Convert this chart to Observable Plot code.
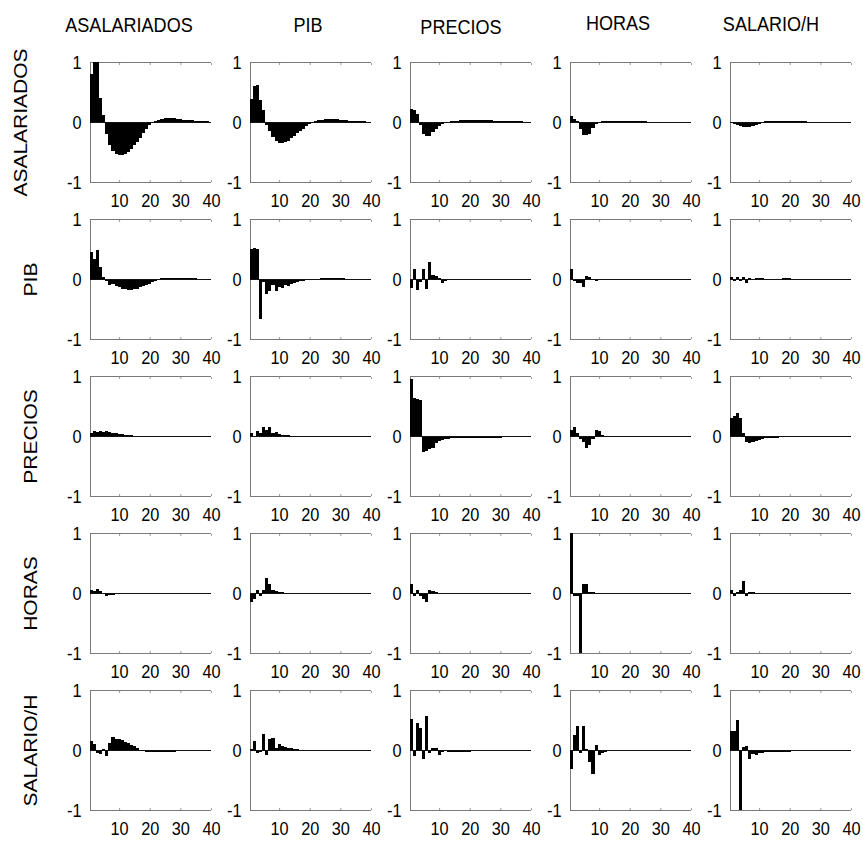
<!DOCTYPE html>
<html>
<head>
<meta charset="utf-8">
<script src="https://cdn.jsdelivr.net/npm/d3@7"></script>
<script src="https://cdn.jsdelivr.net/npm/@observablehq/plot@0.6"></script>
<style>
  html, body { margin: 0; padding: 0; background: #fff; }
  #chart { width: 863px; height: 841px; }
</style>
</head>
<body>
<div id="chart"></div>
<script>
// Variables: rows = shocked variable, columns = responding variable
const variables = ["ASALARIADOS", "PIB", "PRECIOS", "HORAS", "SALARIO/H"];
const horizons = d3.range(1, 41);
const xTicks = [10, 20, 30, 40];
const yTicks = [-1, 0, 1];

// Row 1: ASALARIADOS
const asal_asal = [0.8, 1.3, 1.2, 0.4, 0.12, -0.2, -0.38, -0.48, -0.53, -0.55, -0.55, -0.53, -0.5, -0.45, -0.39, -0.33, -0.26, -0.19, -0.12, -0.05, 0.0, 0.02, 0.04, 0.05, 0.06, 0.06, 0.06, 0.06, 0.05, 0.05, 0.04, 0.04, 0.03, 0.03, 0.02, 0.02, 0.01, 0.01, 0.01, 0.0];
const asal_pib = [0.38, 0.6, 0.62, 0.36, 0.2, -0.05, -0.15, -0.25, -0.31, -0.35, -0.35, -0.34, -0.31, -0.27, -0.23, -0.19, -0.15, -0.11, -0.07, -0.04, -0.01, 0.01, 0.03, 0.04, 0.045, 0.05, 0.05, 0.05, 0.045, 0.04, 0.035, 0.03, 0.025, 0.02, 0.02, 0.015, 0.01, 0.01, 0.005, 0.0];
const asal_prec = [0.22, 0.2, 0.13, -0.05, -0.2, -0.24, -0.24, -0.16, -0.11, -0.07, -0.04, -0.02, 0.0, 0.01, 0.02, 0.02, 0.03, 0.03, 0.03, 0.03, 0.03, 0.03, 0.03, 0.03, 0.03, 0.03, 0.03, 0.025, 0.02, 0.02, 0.02, 0.02, 0.015, 0.01, 0.01, 0.01, 0.01, 0.005, 0.0, 0.0];
const asal_hor = [0.1, 0.05, 0.02, -0.12, -0.22, -0.22, -0.2, -0.1, -0.04, -0.01, 0.01, 0.02, 0.02, 0.02, 0.02, 0.02, 0.02, 0.02, 0.02, 0.015, 0.01, 0.01, 0.01, 0.01, 0.01, 0.005, 0.005, 0.005, 0.005, 0, 0, 0, 0, 0, 0, 0, 0, 0, 0, 0];
const asal_sal = [-0.02, -0.04, -0.05, -0.07, -0.08, -0.08, -0.08, -0.07, -0.05, -0.03, -0.01, 0.01, 0.02, 0.02, 0.02, 0.02, 0.02, 0.02, 0.02, 0.02, 0.015, 0.01, 0.01, 0.01, 0.01, 0.005, 0.005, 0.005, 0, 0, 0, 0, 0, 0, 0, 0, 0, 0, 0, 0];

// Row 2: PIB
const pib_asal = [0.45, 0.34, 0.48, 0.2, 0.03, -0.03, -0.1, -0.08, -0.12, -0.14, -0.16, -0.17, -0.18, -0.18, -0.17, -0.16, -0.14, -0.12, -0.1, -0.08, -0.05, -0.03, -0.01, 0.01, 0.01, 0.01, 0.01, 0.01, 0.01, 0.01, 0.01, 0.01, 0.01, 0.01, 0.01, 0.0, 0, 0, 0, 0];
const pib_pib = [0.5, 0.52, 0.5, -0.67, -0.05, -0.25, -0.2, -0.1, -0.2, -0.13, -0.15, -0.1, -0.12, -0.08, -0.07, -0.05, -0.04, -0.03, -0.02, -0.01, 0, 0, 0, 0.01, 0.01, 0.01, 0.01, 0.01, 0.01, 0.01, 0.01, 0, 0, 0, 0, 0, 0, 0, 0, 0];
const pib_prec = [-0.15, 0.17, -0.19, -0.05, 0.17, -0.16, 0.29, 0.06, 0.05, 0.02, -0.06, -0.03, -0.02, -0.02, -0.01, 0, 0, 0, 0, 0, 0, 0, 0, 0, 0, 0, 0, 0, 0, 0, 0, 0, 0, 0, 0, 0, 0, 0, 0, 0];
const pib_hor = [0.17, -0.04, -0.06, -0.06, -0.14, 0.05, 0.04, -0.02, -0.04, -0.01, 0, 0, 0, 0, 0, 0, 0, 0, 0, 0, 0, 0, 0, 0, 0, 0, 0, 0, 0, 0, 0, 0, 0, 0, 0, 0, 0, 0, 0, 0];
const pib_sal = [0.03, -0.03, 0.04, -0.04, 0.03, -0.06, 0.02, -0.01, 0.02, 0.02, 0.01, 0, 0, 0, 0, 0, 0, 0.01, 0.01, 0.01, 0, 0, 0, 0, 0, 0, 0, 0, 0, 0, 0, 0, 0, 0, 0, 0, 0, 0, 0, 0];

// Row 3: PRECIOS
const prec_asal = [0.05, 0.08, 0.07, 0.09, 0.06, 0.08, 0.07, 0.05, 0.05, 0.04, 0.03, 0.02, 0.01, 0.01, 0, 0, 0, 0, 0, -0.01, -0.01, -0.01, -0.01, -0.01, -0.01, -0.01, -0.01, -0.01, -0.01, -0.01, 0, 0, 0, 0, 0, 0, 0, 0, 0, 0];
const prec_pib = [0.05, -0.02, 0.08, 0.05, 0.15, 0.1, 0.15, 0.05, 0.06, 0.03, 0.02, 0.01, 0.01, 0, 0, 0, 0, 0, 0, 0, 0, 0, 0, 0, 0, 0, 0, 0, 0, 0, 0, 0, 0, 0, 0, 0, 0, 0, 0, 0];
const prec_prec = [0.95, 0.63, 0.62, 0.6, -0.27, -0.25, -0.22, -0.2, -0.12, -0.08, -0.06, -0.05, -0.05, -0.04, -0.04, -0.03, -0.03, -0.03, -0.03, -0.03, -0.03, -0.03, -0.03, -0.03, -0.03, -0.03, -0.03, -0.03, -0.03, -0.03, -0.02, -0.02, -0.02, -0.02, -0.02, -0.02, -0.02, -0.02, -0.02, -0.02];
const prec_hor = [0.1, 0.15, 0.05, -0.05, -0.1, -0.2, -0.15, -0.05, 0.1, 0.08, 0.02, 0, 0, 0, 0, 0, 0, 0, 0, 0, 0, 0, 0, 0, 0, 0, 0, 0, 0, 0, 0, 0, 0, 0, 0, 0, 0, 0, 0, 0];
const prec_sal = [0.3, 0.33, 0.38, 0.3, 0.05, -0.1, -0.12, -0.1, -0.08, -0.06, -0.05, -0.04, -0.04, -0.03, -0.03, -0.03, -0.02, -0.02, -0.02, -0.02, -0.02, -0.02, -0.02, -0.02, -0.02, -0.02, -0.02, -0.02, -0.02, -0.02, -0.02, -0.02, -0.02, -0.02, -0.02, -0.02, -0.02, -0.02, -0.02, -0.02];

// Row 4: HORAS
const hor_asal = [0.05, 0.03, 0.06, 0.03, -0.02, -0.05, -0.04, -0.03, -0.02, -0.01, 0, 0, 0, 0, 0, 0, 0, 0, 0, 0, 0, 0, 0, 0, 0, 0, 0, 0, 0, 0, 0, 0, 0, 0, 0, 0, 0, 0, 0, 0];
const hor_pib = [-0.15, -0.1, 0.05, -0.05, 0.05, 0.25, 0.15, 0.05, 0.03, 0.02, 0.01, 0, 0, 0, 0, 0, 0, 0, 0, 0, 0, 0, 0, 0, 0, 0, 0, 0, 0, 0, 0, 0, 0, 0, 0, 0, 0, 0, 0, 0];
const hor_prec = [0.15, -0.05, 0.05, -0.05, -0.1, -0.15, 0.05, 0.03, 0.01, 0, 0, 0, 0, 0, 0, 0, 0, 0, 0, 0, 0, 0, 0, 0, 0, 0, 0, 0, 0, 0, 0, 0, 0, 0, 0, 0, 0, 0, 0, 0];
const hor_hor = [1.0, -0.05, -0.05, -1.2, 0.15, 0.15, 0.02, 0.01, 0, 0, 0, 0, 0, 0, 0, 0, 0, 0, 0, 0, 0, 0, 0, 0, 0, 0, 0, 0, 0, 0, 0, 0, 0, 0, 0, 0, 0, 0, 0, 0];
const hor_sal = [0.05, -0.05, 0.02, 0.05, 0.2, -0.05, 0.02, 0.01, 0, 0, 0, 0, 0, 0, 0, 0, 0, 0, 0, 0, 0, 0, 0, 0, 0, 0, 0, 0, 0, 0, 0, 0, 0, 0, 0, 0, 0, 0, 0, 0];

// Row 5: SALARIO/H
const sal_asal = [0.15, 0.1, -0.05, -0.07, 0.02, -0.1, 0.12, 0.22, 0.18, 0.18, 0.16, 0.14, 0.12, 0.09, 0.06, 0.03, 0.0, -0.02, -0.03, -0.03, -0.04, -0.04, -0.03, -0.03, -0.03, -0.03, -0.03, -0.03, -0.02, -0.02, -0.02, -0.01, -0.01, -0.01, 0, 0, 0, 0, 0, 0];
const sal_pib = [0.02, 0.15, -0.05, -0.04, 0.27, -0.08, 0.18, 0.2, 0.04, 0.1, 0.07, 0.05, 0.04, 0.03, 0.02, 0.01, 0, -0.01, -0.02, -0.02, -0.02, -0.02, -0.02, -0.02, -0.02, -0.02, -0.02, -0.02, -0.02, -0.02, -0.02, -0.01, 0, 0, 0, 0, 0, 0, 0, 0];
const sal_prec = [0.52, -0.1, 0.45, 0.37, -0.15, 0.57, -0.05, 0.03, 0.04, -0.08, -0.03, -0.02, -0.03, -0.03, -0.04, -0.04, -0.04, -0.03, -0.03, -0.03, -0.02, -0.02, -0.02, -0.02, -0.02, -0.02, -0.02, -0.02, -0.01, -0.01, -0.01, -0.01, -0.01, -0.01, -0.01, -0.01, 0, 0, 0, 0];
const sal_hor = [-0.32, 0.25, 0.4, -0.05, 0.4, 0.02, -0.2, -0.4, 0.08, -0.08, -0.05, -0.03, -0.01, 0, 0, 0, 0, 0, 0, 0, 0, 0, 0, 0, 0, 0, 0, 0, 0, 0, 0, 0, 0, 0, 0, 0, 0, 0, 0, 0];
const sal_sal = [0.32, 0.32, 0.5, -1.1, 0.05, 0.06, -0.15, -0.06, -0.08, -0.05, -0.05, -0.04, -0.04, -0.03, -0.03, -0.03, -0.03, -0.03, -0.03, -0.03, -0.02, -0.02, -0.02, -0.02, -0.02, -0.02, -0.02, -0.02, -0.02, -0.01, -0.01, -0.01, -0.01, -0.01, 0, 0, 0, 0, 0, 0];

const responses = [
  [asal_asal, asal_pib, asal_prec, asal_hor, asal_sal],
  [pib_asal, pib_pib, pib_prec, pib_hor, pib_sal],
  [prec_asal, prec_pib, prec_prec, prec_hor, prec_sal],
  [hor_asal, hor_pib, hor_prec, hor_hor, hor_sal],
  [sal_asal, sal_pib, sal_prec, sal_hor, sal_sal]
];

// long table built from the arrays
const table = [];
variables.forEach((shock, i) => {
  variables.forEach((resp, j) => {
    responses[i][j].forEach((v, k) => table.push({shock, resp, t: horizons[k], v}));
  });
});

// layout offsets for the titles (as in the original figure)
const titleDx = [-22, -3, -10, -13, -20];
const titleDy = [-37, -37, -35, -39, -38];
const rowDx = [-69, -59, -59, -59, -59];

const font = "'Liberation Sans', Arial, Helvetica, sans-serif";
const frameColor = "#7a7a7a";

const marks = [
  Plot.ruleY([-1, 1], {stroke: frameColor, strokeWidth: 1}),
  Plot.ruleX([0.5], {stroke: frameColor, strokeWidth: 1}),
  Plot.rectY(table, {
    x1: d => d.t - 0.5, x2: d => d.t + 0.5, y1: 0, y2: "v",
    fx: "resp", fy: "shock", fill: "#000", clip: true, shapeRendering: "crispEdges"
  }),
  Plot.ruleY([0], {stroke: "#111", strokeWidth: 1}),
  Plot.axisX({ticks: xTicks, anchor: "bottom", tickSize: -2, tickPadding: 13, stroke: "#999",
    facetAnchor: null, fontSize: 19, label: null, tickFormat: d => String(d)}),
  Plot.axisX({ticks: xTicks, anchor: "top", tickSize: -2, text: null, stroke: "#999",
    facetAnchor: null, label: null}),
  Plot.axisY({ticks: yTicks, anchor: "left", tickSize: 0, tickPadding: 9,
    facetAnchor: null, fontSize: 19, label: null, tickFormat: d => String(d)})
];

variables.forEach((v, j) => {
  marks.push(Plot.text([v], {
    fx: () => v, fy: () => variables[0], text: d => d,
    frameAnchor: "top", dx: titleDx[j], dy: titleDy[j], fontSize: 21, lineAnchor: "middle", fill: "#000"
  }));
});
variables.forEach((v, i) => {
  marks.push(Plot.text([v], {
    fx: () => variables[0], fy: () => v, text: d => d,
    frameAnchor: "left", dx: rowDx[i], rotate: -90, textAnchor: "middle",
    fontSize: 21, lineAnchor: "middle", fill: "#000"
  }));
});

const chart = Plot.plot({
  width: 863,
  height: 841,
  marginLeft: 89,
  marginRight: 12,
  marginTop: 61,
  marginBottom: 31,
  style: {fontFamily: font, background: "#fff", color: "#000", overflow: "visible"},
  fx: {domain: variables, paddingInner: 0.244, paddingOuter: 0, axis: null},
  fy: {domain: variables, paddingInner: 0.238, paddingOuter: 0, axis: null},
  x: {domain: [0.5, 40], label: null},
  y: {domain: [-1, 1], label: null},
  marks
});

// the original lettering is horizontally condensed
for (const t of chart.querySelectorAll("text")) {
  const tr = t.getAttribute("transform") || "";
  const x = +t.getAttribute("x") || 0;
  const y = +t.getAttribute("y") || 0;
  const s = /rotate/.test(tr) ? "scale(1,0.86)" : "scale(0.86,1)";
  t.setAttribute("transform", `${tr} translate(${x},${y}) ${s} translate(${-x},${-y})`);
}

document.getElementById("chart").append(chart);
</script>
</body>
</html>
